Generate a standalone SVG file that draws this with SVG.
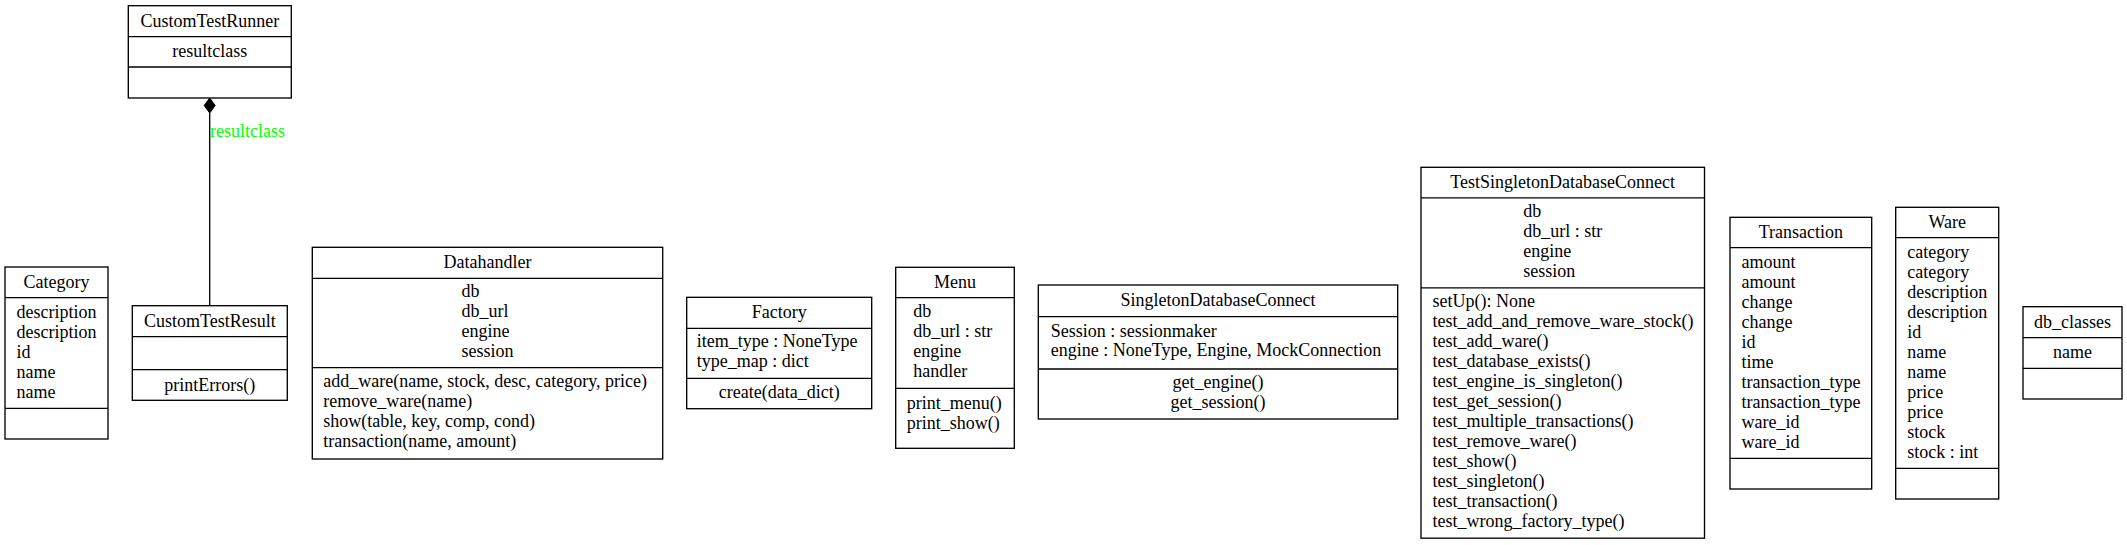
<svg xmlns="http://www.w3.org/2000/svg" width="2127" height="545" viewBox="0 0 2127 545">
<style>
rect.box{fill:#fff;stroke:#000;stroke-width:1.33}
line.div{stroke:#000;stroke-width:1.33}
text{font-family:"Liberation Serif","Times New Roman",serif;font-size:18px;fill:#000}
.c{text-anchor:middle}
.edge{stroke:#000;stroke-width:1.33;fill:none}
.lbl{fill:#00ff00}
</style>
<rect width="2127" height="545" fill="#fff"/>
<g id="connectors">
<line class="edge" x1="209.7" y1="113" x2="209.7" y2="305.7"/>
<polygon points="209.7,98 215.2,105.5 209.7,113 204.2,105.5" fill="#000" stroke="#000" stroke-width="1"/>
<text class="lbl" x="210" y="137">resultclass</text>
</g>
<g id="CustomTestRunner">
<rect class="box" x="128.3" y="5.7" width="163" height="92.3"/>
<line class="div" x1="128.3" y1="36.7" x2="291.3" y2="36.7"/>
<line class="div" x1="128.3" y1="67" x2="291.3" y2="67"/>
<text class="c" x="209.8" y="26.7">CustomTestRunner</text>
<text class="c" x="209.8" y="57">resultclass</text>
</g>
<g id="Category">
<rect class="box" x="5" y="267" width="103" height="172"/>
<line class="div" x1="5" y1="297.7" x2="108" y2="297.7"/>
<line class="div" x1="5" y1="408.3" x2="108" y2="408.3"/>
<text class="c" x="56.5" y="288">Category</text>
<text x="16.5" y="318">description</text>
<text x="16.5" y="338">description</text>
<text x="16.5" y="358">id</text>
<text x="16.5" y="378">name</text>
<text x="16.5" y="398">name</text>
</g>
<g id="CustomTestResult">
<rect class="box" x="132.3" y="305.7" width="155" height="94.6"/>
<line class="div" x1="132.3" y1="336.7" x2="287.3" y2="336.7"/>
<line class="div" x1="132.3" y1="369.7" x2="287.3" y2="369.7"/>
<text class="c" x="209.8" y="326.7">CustomTestResult</text>
<text class="c" x="209.8" y="390.7">printErrors()</text>
</g>
<g id="Datahandler">
<rect class="box" x="312.3" y="247.3" width="350.4" height="211.7"/>
<line class="div" x1="312.3" y1="278.3" x2="662.7" y2="278.3"/>
<line class="div" x1="312.3" y1="367.7" x2="662.7" y2="367.7"/>
<text class="c" x="487.5" y="268.3">Datahandler</text>
<text x="461.5" y="297">db</text>
<text x="461.5" y="317">db_url</text>
<text x="461.5" y="337">engine</text>
<text x="461.5" y="357">session</text>
<text x="323.3" y="386.7">add_ware(name, stock, desc, category, price)</text>
<text x="323.3" y="406.7">remove_ware(name)</text>
<text x="323.3" y="426.7">show(table, key, comp, cond)</text>
<text x="323.3" y="446.7">transaction(name, amount)</text>
</g>
<g id="Factory">
<rect class="box" x="686.7" y="297.3" width="185" height="111.4"/>
<line class="div" x1="686.7" y1="328.3" x2="871.7" y2="328.3"/>
<line class="div" x1="686.7" y1="378.3" x2="871.7" y2="378.3"/>
<text class="c" x="779.2" y="318.3">Factory</text>
<text x="696.7" y="347.3">item_type : NoneType</text>
<text x="696.7" y="367.3">type_map : dict</text>
<text class="c" x="779.2" y="398.3">create(data_dict)</text>
</g>
<g id="Menu">
<rect class="box" x="895.7" y="267.3" width="118.6" height="181"/>
<line class="div" x1="895.7" y1="297.7" x2="1014.3" y2="297.7"/>
<line class="div" x1="895.7" y1="388.3" x2="1014.3" y2="388.3"/>
<text class="c" x="955" y="288.3">Menu</text>
<text x="913.3" y="316.7">db</text>
<text x="913.3" y="336.7">db_url : str</text>
<text x="913.3" y="356.7">engine</text>
<text x="913.3" y="376.7">handler</text>
<text x="906.7" y="409.3">print_menu()</text>
<text x="906.7" y="429.3">print_show()</text>
</g>
<g id="SingletonDatabaseConnect">
<rect class="box" x="1038.3" y="285" width="359.4" height="134"/>
<line class="div" x1="1038.3" y1="316.7" x2="1397.7" y2="316.7"/>
<line class="div" x1="1038.3" y1="369" x2="1397.7" y2="369"/>
<text class="c" x="1218" y="306.3">SingletonDatabaseConnect</text>
<text x="1050.7" y="336.7">Session : sessionmaker</text>
<text x="1050.7" y="356.3">engine : NoneType, Engine, MockConnection</text>
<text class="c" x="1218" y="388.3">get_engine()</text>
<text class="c" x="1218" y="408">get_session()</text>
</g>
<g id="TestSingletonDatabaseConnect">
<rect class="box" x="1421" y="167.3" width="283.5" height="370.9"/>
<line class="div" x1="1421" y1="197.8" x2="1704.5" y2="197.8"/>
<line class="div" x1="1421" y1="287.8" x2="1704.5" y2="287.8"/>
<text class="c" x="1562.7" y="188.3">TestSingletonDatabaseConnect</text>
<text x="1523.3" y="217.3">db</text>
<text x="1523.3" y="237.3">db_url : str</text>
<text x="1523.3" y="257.3">engine</text>
<text x="1523.3" y="277.3">session</text>
<text x="1432.5" y="307.3">setUp(): None</text>
<text x="1432.5" y="327.3">test_add_and_remove_ware_stock()</text>
<text x="1432.5" y="347.3">test_add_ware()</text>
<text x="1432.5" y="367.3">test_database_exists()</text>
<text x="1432.5" y="387.3">test_engine_is_singleton()</text>
<text x="1432.5" y="407.3">test_get_session()</text>
<text x="1432.5" y="427.3">test_multiple_transactions()</text>
<text x="1432.5" y="447.3">test_remove_ware()</text>
<text x="1432.5" y="467.3">test_show()</text>
<text x="1432.5" y="487.3">test_singleton()</text>
<text x="1432.5" y="507.3">test_transaction()</text>
<text x="1432.5" y="527.3">test_wrong_factory_type()</text>
</g>
<g id="Transaction">
<rect class="box" x="1730" y="217.3" width="141.7" height="271.7"/>
<line class="div" x1="1730" y1="247.7" x2="1871.7" y2="247.7"/>
<line class="div" x1="1730" y1="458.3" x2="1871.7" y2="458.3"/>
<text class="c" x="1800.8" y="238.3">Transaction</text>
<text x="1741.5" y="267.7">amount</text>
<text x="1741.5" y="287.7">amount</text>
<text x="1741.5" y="307.7">change</text>
<text x="1741.5" y="327.7">change</text>
<text x="1741.5" y="347.7">id</text>
<text x="1741.5" y="367.7">time</text>
<text x="1741.5" y="387.7">transaction_type</text>
<text x="1741.5" y="407.7">transaction_type</text>
<text x="1741.5" y="427.7">ware_id</text>
<text x="1741.5" y="447.7">ware_id</text>
</g>
<g id="Ware">
<rect class="box" x="1895.7" y="207.3" width="103" height="291.7"/>
<line class="div" x1="1895.7" y1="237.7" x2="1998.7" y2="237.7"/>
<line class="div" x1="1895.7" y1="468.3" x2="1998.7" y2="468.3"/>
<text class="c" x="1947.2" y="228.3">Ware</text>
<text x="1907.3" y="258.3">category</text>
<text x="1907.3" y="278.3">category</text>
<text x="1907.3" y="298.3">description</text>
<text x="1907.3" y="318.3">description</text>
<text x="1907.3" y="338.3">id</text>
<text x="1907.3" y="358.3">name</text>
<text x="1907.3" y="378.3">name</text>
<text x="1907.3" y="398.3">price</text>
<text x="1907.3" y="418.3">price</text>
<text x="1907.3" y="438.3">stock</text>
<text x="1907.3" y="458.3">stock : int</text>
</g>
<g id="db_classes">
<rect class="box" x="2023" y="306.7" width="99" height="92.3"/>
<line class="div" x1="2023" y1="337.7" x2="2122" y2="337.7"/>
<line class="div" x1="2023" y1="368.3" x2="2122" y2="368.3"/>
<text class="c" x="2072.5" y="327.7">db_classes</text>
<text class="c" x="2072.5" y="358.3">name</text>
</g>
</svg>
